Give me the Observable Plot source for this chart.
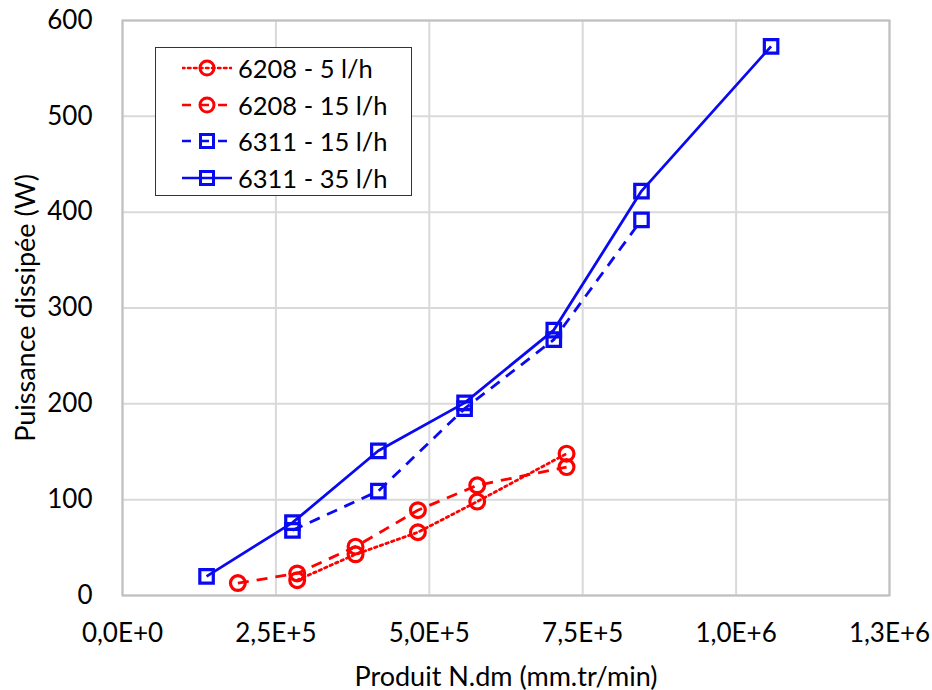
<!DOCTYPE html>
<html><head><meta charset="utf-8">
<script src="https://cdn.jsdelivr.net/npm/d3@7"></script>
<script src="https://cdn.jsdelivr.net/npm/@observablehq/plot@0.6"></script>
<style>
body{margin:0;background:#fff;}
#wrap{position:relative;width:932px;height:690px;}
#legend{position:absolute;left:155px;top:47px;width:257px;height:149px;border:1.5px solid #333;background:#fff;box-sizing:border-box;font-family:Lato,sans-serif;font-size:25.5px;color:#000;}
.row{position:absolute;left:26px;height:30px;display:flex;align-items:center;white-space:nowrap;}
.row svg{margin-right:6px;}
</style></head><body><div id="wrap"></div>
<script>
// Data
const seriesNames = ["6208 - 5 l/h", "6208 - 15 l/h", "6311 - 15 l/h", "6311 - 35 l/h"];
const x6208 = [188000, 284700, 379800, 481400, 578100, 723700];
const y6208_15 = [13, 23, 51, 89, 115, 134];
const x6208_5 = [284700, 379800, 481400, 578100, 723700];
const y6208_5 = [16, 43, 66, 98, 148];
const x6311_35 = [137000, 277000, 417000, 557500, 702900, 845800, 1057000];
const y6311_35 = [20, 76, 151, 201, 277, 422, 573];
const x6311_15 = [277000, 417000, 557500, 702900, 845800];
const y6311_15 = [68, 109, 195, 267, 392];
const xTicks = [0, 250000, 500000, 750000, 1000000, 1250000];
const xTickLabels = ["0,0E+0", "2,5E+5", "5,0E+5", "7,5E+5", "1,0E+6", "1,3E+6"];
const yTicks = [0, 100, 200, 300, 400, 500, 600];

const RED = "#ff0000", BLUE = "#0a0af0";
const styles = [
  {name: seriesNames[0], xs: x6208_5, ys: y6208_5, color: RED, dash: "2.5,3.5", symbol: "circle", cap: "round"},
  {name: seriesNames[1], xs: x6208, ys: y6208_15, color: RED, dash: "11,8", symbol: "circle", cap: "butt"},
  {name: seriesNames[2], xs: x6311_15, ys: y6311_15, color: BLUE, dash: "11,8", symbol: "square", cap: "butt"},
  {name: seriesNames[3], xs: x6311_35, ys: y6311_35, color: BLUE, dash: null, symbol: "square", cap: "butt"}
];
const tables = styles.map(s => s.xs.map((x, i) => ({x, y: s.ys[i], series: s.name})));

const marks = [
  Plot.gridX(xTicks, {stroke: "#d9d9d9", strokeOpacity: 1, strokeWidth: 2}),
  Plot.gridY(yTicks, {stroke: "#d9d9d9", strokeOpacity: 1, strokeWidth: 2}),
  Plot.frame({stroke: "#bfbfbf", strokeWidth: 2}),
  Plot.axisX(xTicks, {tickSize: 0, tickPadding: 28, tickFormat: d => xTickLabels[xTicks.indexOf(d)],
    fontSize: 26, fill: "#000", label: null}),
  Plot.axisX({tickSize: 0, ticks: [], label: "Produit N.dm (mm.tr/min)", labelAnchor: "center",
    labelArrow: "none", labelOffset: 90, fontSize: 27, fill: "#000"}),
  Plot.axisY(yTicks, {tickSize: 0, tickPadding: 30, fontSize: 26, fill: "#000", label: null}),
  Plot.axisY({tickSize: 0, ticks: [], label: "Puissance dissipée (W)", labelAnchor: "center",
    labelArrow: "none", labelOffset: 107, fontSize: 27, fill: "#000"})
];
styles.forEach((s, k) => {
  marks.push(Plot.line(tables[k], {x: "x", y: "y", stroke: s.color, strokeWidth: 2.8,
    strokeDasharray: s.dash || undefined, strokeLinecap: s.cap}));
});
styles.forEach((s, k) => {
  marks.push(Plot.dot(tables[k], {x: "x", y: "y", stroke: s.color, strokeWidth: 3.2, fill: "none",
    symbol: s.symbol, r: s.symbol === "square" ? 7.6 : 7.4}));
});

const chart = Plot.plot({
  width: 932, height: 690,
  marginLeft: 122, marginRight: 43, marginTop: 20, marginBottom: 95,
  style: {fontFamily: "Lato, sans-serif", fontSize: "26px", color: "#000", background: "#fff"},
  x: {domain: [0, 1250000]},
  y: {domain: [0, 600]},
  marks
});
const wrap = document.getElementById("wrap");
wrap.appendChild(chart);

// Legend (HTML overlay)
const legend = document.createElement("div");
legend.id = "legend";
styles.forEach((s, i) => {
  const row = document.createElement("div");
  row.className = "row";
  row.style.top = (5 + i * 36.5) + "px";
  const marker = s.symbol === "circle"
    ? `<circle cx="25" cy="15" r="7" fill="none" stroke="${s.color}" stroke-width="3"/>`
    : `<rect x="18.5" y="8.5" width="13" height="13" fill="none" stroke="${s.color}" stroke-width="3"/>`;
  const lineDash = s.dash ? `stroke-dasharray="${i === 0 ? "2.5,3.5" : "9,9"}"` : "";
  row.innerHTML = `<svg width="50" height="30"><line x1="0" y1="15" x2="50" y2="15" stroke="${s.color}" stroke-width="2.6" ${lineDash} stroke-linecap="${s.cap}"/>${marker}</svg><span>${s.name}</span>`;
  legend.appendChild(row);
});
wrap.appendChild(legend);
</script>
</body></html>
